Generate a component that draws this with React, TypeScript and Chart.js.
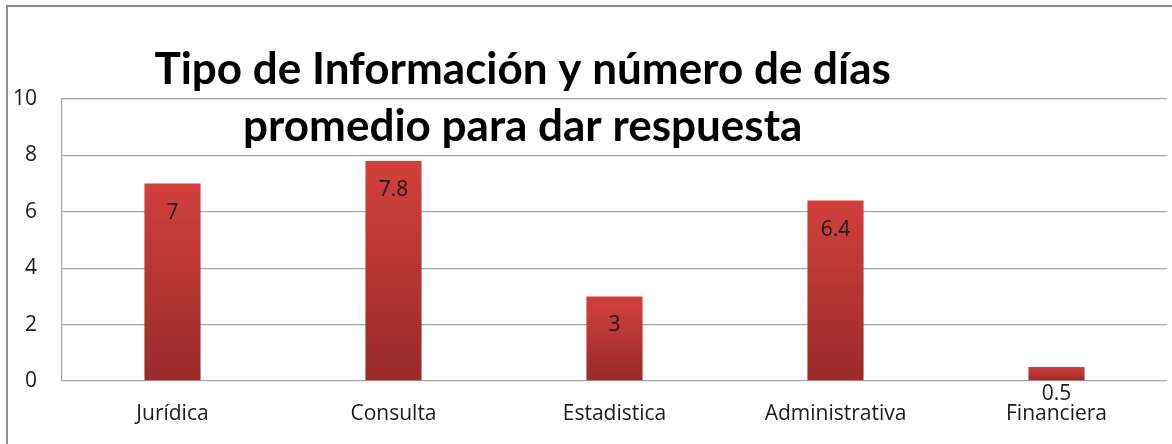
import React, { useEffect, useRef } from "react";
import { Chart, registerables } from "chart.js";

Chart.register(...registerables);

const categories = ["Jurídica", "Consulta", "Estadistica", "Administrativa", "Financiera"];
const values = [7, 7.8, 3, 6.4, 0.5];
const valueLabels = ["7", "7.8", "3", "6.4", "0.5"];
const titleLines = ["Tipo de Información y número de días", "promedio para dar respuesta"];
const yTicks = [0, 2, 4, 6, 8, 10];

const FONT = "'Open Sans', Lato, sans-serif";
const TITLE_FONT = "Lato, 'Open Sans', sans-serif";

const decorPlugin = {
  id: "decor",
  beforeDraw(chart: any) {
    const ctx = chart.ctx;
    ctx.save();
    ctx.fillStyle = "#ffffff";
    ctx.fillRect(0, 0, chart.width, chart.height);
    ctx.strokeStyle = "#8f8f8f";
    ctx.lineWidth = 2;
    ctx.strokeRect(7, 6, chart.width + 10, chart.height + 10);
    ctx.restore();
  },
  afterDatasetsDraw(chart: any) {
    const ctx = chart.ctx;
    const meta = chart.getDatasetMeta(0);
    ctx.save();
    ctx.font = `21px ${FONT}`;
    ctx.fillStyle = "#1a1a1a";
    ctx.textAlign = "center";
    ctx.textBaseline = "middle";
    meta.data.forEach((bar: any, i: number) => {
      const h = bar.base - bar.y;
      const y = h > 40 ? bar.y + 29 : bar.base + 14;
      ctx.fillText(valueLabels[i], bar.x, y);
    });
    ctx.restore();
  },
  afterDraw(chart: any) {
    const ctx = chart.ctx;
    ctx.save();
    ctx.font = `bold 44px ${TITLE_FONT}`;
    ctx.fillStyle = "#000000";
    ctx.textAlign = "center";
    ctx.textBaseline = "middle";
    const cx = chart.width * 0.446;
    ctx.fillText(titleLines[0], cx, 70);
    ctx.fillText(titleLines[1], cx, 127);
    ctx.restore();
  },
};

export default function App() {
  const ref = useRef<HTMLCanvasElement | null>(null);
  useEffect(() => {
    if (!ref.current) return;
    const chart = new Chart(ref.current, {
      type: "bar",
      data: {
        labels: categories,
        datasets: [
          {
            data: values,
            backgroundColor: (c: any) => {
              const chart = c.chart;
              const ys = chart.scales && chart.scales.y;
              if (!ys || c.dataIndex === undefined) return "#c0393a";
              const top = ys.getPixelForValue(values[c.dataIndex]);
              const base = ys.getPixelForValue(0);
              if (!isFinite(top) || !isFinite(base) || top === base) return "#c0393a";
              const g = chart.ctx.createLinearGradient(0, top, 0, base);
              g.addColorStop(0, "#d2403d");
              g.addColorStop(1, "#982a2a");
              return g;
            },
            borderWidth: 0,
            barPercentage: 0.254,
            categoryPercentage: 1,
          },
        ],
      },
      options: {
        animation: false,
        responsive: false,
        maintainAspectRatio: false,
        layout: { padding: { top: 99, right: 5, left: 0, bottom: 0 } },
        plugins: {
          legend: { display: false },
          title: { display: false },
          tooltip: { enabled: false },
        },
        scales: {
          x: {
            grid: { display: false, drawTicks: false },
            border: { display: false },
            ticks: { font: { family: FONT, size: 21 }, color: "#1a1a1a", padding: 20 },
            afterFit: (s: any) => {
              s.height = 63;
            },
          },
          y: {
            min: 0,
            max: 10,
            afterBuildTicks: (s: any) => {
              s.ticks = yTicks.map((v) => ({ value: v }));
            },
            grid: { color: "#a6a6a6", lineWidth: 1.3, drawTicks: false },
            border: { display: true, color: "#a6a6a6", width: 1.3 },
            ticks: { font: { family: FONT, size: 21 }, color: "#1a1a1a", padding: 25 },
            afterFit: (s: any) => {
              s.width = 62;
            },
          },
        },
      },
      plugins: [decorPlugin],
    } as any);
    return () => chart.destroy();
  }, []);
  return (
    <div style={{ position: "absolute", left: 0, top: 0, width: 1172, height: 444 }}>
      <canvas ref={ref} width={1172} height={444} style={{ display: "block" }} />
    </div>
  );
}
